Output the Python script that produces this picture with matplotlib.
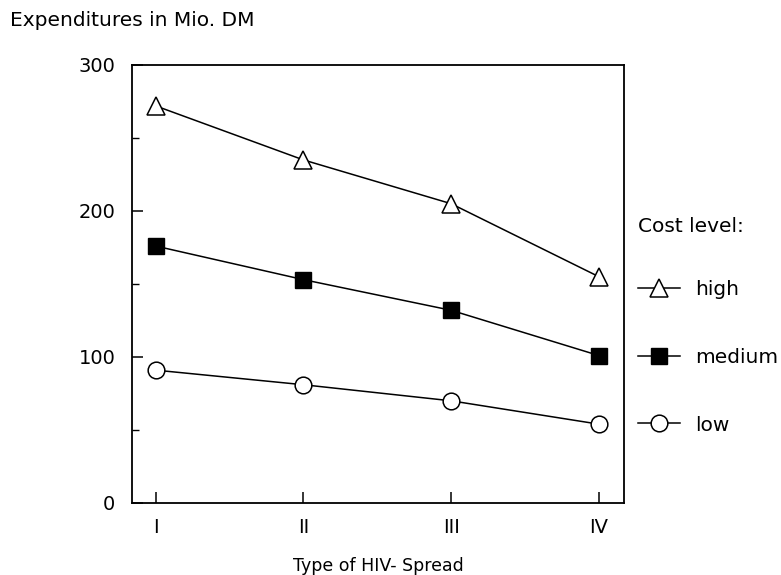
import matplotlib
matplotlib.use("Agg")
import matplotlib.pyplot as plt
from matplotlib.ticker import MultipleLocator

plt.rcParams['font.family'] = ['DejaVu Sans']

categories = ["I", "II", "III", "IV"]
high = [272, 235, 205, 155]
medium = [176, 153, 132, 101]
low = [91, 81, 70, 54]
series_labels = ["high", "medium", "low"]
yticks = [0, 100, 200, 300]

fig = plt.figure(figsize=(7.81, 5.75), dpi=100)
ax = fig.add_axes([132/781, 1 - 503/575, (624 - 132)/781, (503 - 65)/575])

x = list(range(1, len(categories) + 1))
l1, = ax.plot(x, high, color='black', lw=1.1, marker='^', ms=13, mfc='white', mec='black', mew=1.1)
l2, = ax.plot(x, medium, color='black', lw=1.1, marker='s', ms=11.5, mfc='black', mec='black')
l3, = ax.plot(x, low, color='black', lw=1.1, marker='o', ms=12, mfc='white', mec='black', mew=1.1)

ax.set_xlim(0.84, 4.17)
ax.set_ylim(0, 300)
ax.set_xticks(x)
ax.set_xticklabels(categories)
ax.set_yticks(yticks)
ax.yaxis.set_minor_locator(MultipleLocator(50))
ax.tick_params(axis='both', which='major', direction='in', length=8, width=1.1, labelsize=14, color='black')
ax.tick_params(axis='y', which='major', pad=12)
ax.tick_params(axis='x', which='major', pad=11)
ax.tick_params(axis='y', which='minor', direction='in', length=5, width=1.0)
for s in ax.spines.values():
    s.set_linewidth(1.3)

ax.set_xlabel("Type of HIV- Spread", fontsize=12.5, labelpad=14)
fig.text(10/781, 1 - 20/575, "Expenditures in Mio. DM", fontsize=14.5, ha='left', va='center')

leg = fig.legend([l1, l2, l3], series_labels, title="Cost level:", loc='upper left',
                 bbox_to_anchor=(638/781, 1 - 217/575), frameon=False, fontsize=14.5,
                 title_fontsize=14.5, alignment='left', handlelength=2.1, handletextpad=0.75,
                 labelspacing=2.41, borderpad=0, borderaxespad=0)
leg._legend_box.sep = 32

fig.savefig("out.png", dpi=100)
